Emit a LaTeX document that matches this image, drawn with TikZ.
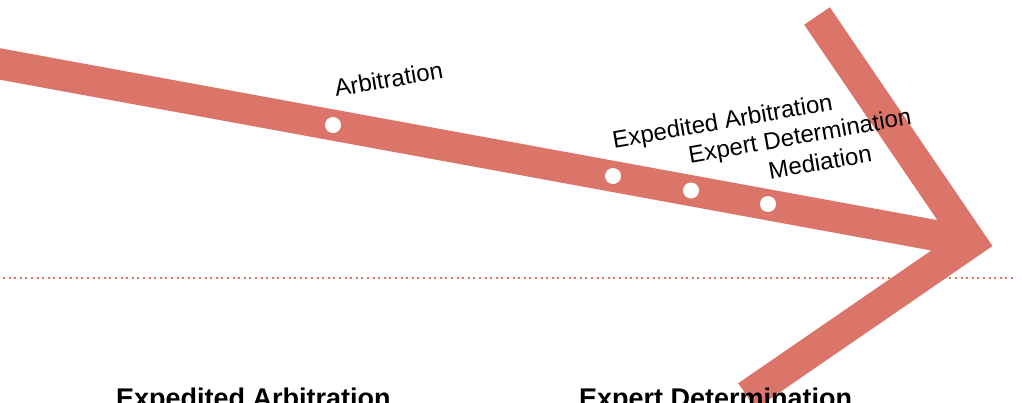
\documentclass[tikz,border=0pt]{standalone}
\usepackage{fontspec}
\setmainfont{Liberation Sans}
\definecolor{arrowred}{RGB}{219,116,105}
\tikzset{
  band/.style={draw=arrowred, line width=31pt},
  chevron/.style={band, line join=miter, miter limit=10},
  guide/.style={draw=arrowred, line width=2pt, dash pattern=on 2pt off 3.6pt},
  stop/.style={circle, fill=white, draw=none, minimum size=16pt, inner sep=0pt},
  lbl/.style={anchor=base west, rotate=10, inner sep=0pt, font=\fontsize{24}{28}\selectfont},
  heading/.style={anchor=base west, inner sep=0pt, font=\fontsize{27}{32}\selectfont\bfseries}
}
\begin{document}
\begin{tikzpicture}[x=1pt,y=-1pt]
\useasboundingbox (0,0) rectangle (1022,402);
\clip (0,0) rectangle (1022,402);
% coordinates
\coordinate (gl) at (3,278);
\coordinate (gr) at (1016,278);
\coordinate (tail) at (-20,60.35);
\coordinate (apex) at (971,242);
\coordinate (armtop) at (817,16);
\coordinate (armbot) at (747,396);
% dotted guide line
\draw[guide] (gl) -- (gr);
% shaft and chevron
\draw[band] (tail) -- (apex);
\draw[chevron] (armtop) -- (apex) -- (armbot);
% stops
\node[stop] (s1) at (333,125) {};
\node[stop] (s2) at (613,176) {};
\node[stop] (s3) at (691,190.5) {};
\node[stop] (s4) at (768,204) {};
% labels
\node[lbl] (l1) at (336,97) {Arbitration};
\node[lbl] (l2) at (614,148.5) {Expedited Arbitration};
\node[lbl] (l3) at (690,163.5) {Expert Determination};
\node[lbl] (l4) at (770,179.5) {Mediation};
% headings
\node[heading] (h1) at (116,407) {Expedited Arbitration};
\node[heading] (h2) at (579,407) {Expert Determination};
\end{tikzpicture}
\end{document}
